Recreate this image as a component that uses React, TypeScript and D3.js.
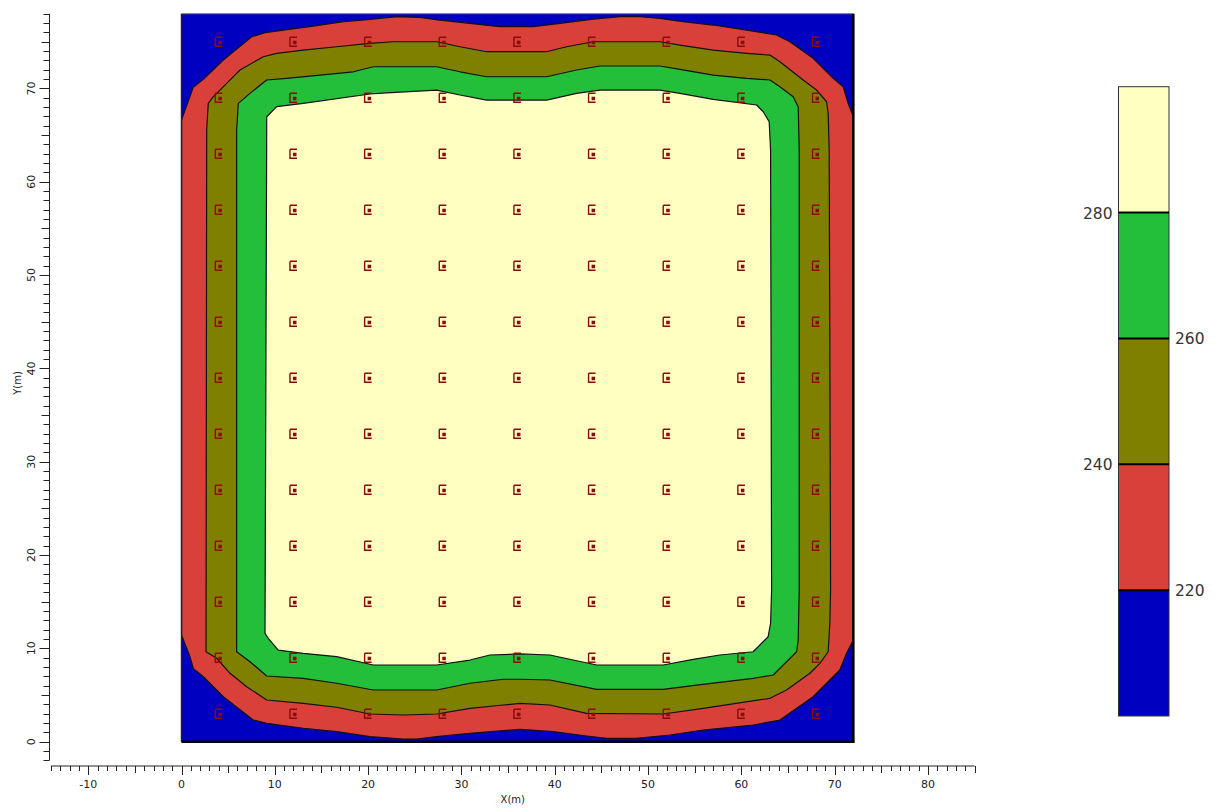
import React, { useEffect, useRef } from "react";
import * as d3 from "d3";

const width = 1215;
const height = 808;

// contour levels and band colours (below first level .. above last level)
const levels = [220, 240, 260, 280];
const bandColors = ["#0000c0", "#d9403a", "#808000", "#23bf3b", "#ffffc2"];

// well locations (m)
const wellX = [4, 12, 20, 28, 36, 44, 52, 60, 68];
const wellY = [3, 9, 15, 21, 27, 33, 39, 45, 51, 57, 63, 69, 75];

// contour lines, [x, y] in metres
const contour220: [number, number][] = [
  [0, 11.43], [0, 66.61], [1.26, 70.11], [2.34, 70.97], [4.48, 73.04], [7.52, 75.53],
  [8.95, 75.96], [10.91, 76.25], [14.12, 76.68], [17.34, 77.14], [20.2, 77.4],
  [23.06, 77.68], [25.55, 77.61], [27.7, 77.32], [30.91, 76.97], [34.12, 76.61],
  [37.69, 76.61], [40.55, 76.97], [44.12, 77.43], [46.98, 77.68], [49.13, 77.68],
  [51.27, 77.5], [53.76, 77.14], [56.98, 76.79], [60.56, 76.25], [63.77, 75.72],
  [65.2, 75.0], [67.69, 73.22], [69.84, 71.08], [70.91, 70.18], [71.44, 68.4],
  [72, 66.96], [72, 10.9], [71.27, 9.47], [70.55, 7.68], [67.69, 4.82], [64.13, 2.32],
  [61.26, 1.79], [55.91, 1.25], [52.34, 0.72], [48.77, 0.36], [45.56, 0.36],
  [43.41, 0.61], [39.84, 1.07], [36.27, 1.33], [34.48, 1.18], [30.91, 0.9],
  [27.34, 0.54], [25.2, 0.29], [23.77, 0.29], [20.2, 0.54], [16.63, 1.07],
  [13.05, 1.44], [9.13, 1.97], [7.69, 2.32], [4.48, 4.82], [2.34, 6.96],
  [1.26, 7.86], [0.91, 9.11],
];

const contour240: [number, number][] = [
  [2.7, 65.54], [2.87, 68.4], [3.41, 69.11], [4.84, 70.54], [6.27, 71.97], [8.76, 73.39],
  [10.2, 73.76], [13.05, 74.11], [16.63, 74.46], [20.2, 74.83], [22.69, 75.0],
  [27.34, 75.0], [29.84, 74.46], [32.7, 73.93], [39.13, 73.93], [41.27, 74.46],
  [44.12, 75.0], [51.27, 75.0], [53.41, 74.64], [56.98, 74.11], [60.56, 73.76],
  [63.06, 73.57], [64.13, 72.86], [66.62, 70.9], [68.06, 69.82], [69.13, 68.57],
  [69.3, 67.33], [69.41, 63.4], [69.56, 16.25], [69.48, 12.69], [69.3, 9.64],
  [68.41, 8.4], [67.34, 7.33], [64.84, 5.54], [63.06, 4.65], [55.91, 3.58],
  [51.62, 2.97], [43.41, 3.04], [39.48, 3.93], [36.27, 4.11], [34.48, 3.93],
  [30.91, 3.58], [27.34, 2.97], [23.77, 2.86], [20.2, 2.97], [16.63, 3.69],
  [13.05, 4.11], [9.13, 4.47], [6.99, 5.89], [5.2, 7.33], [3.77, 8.94], [2.63, 9.64],
];

const contour260: [number, number][] = [
  [5.91, 65.54], [6.09, 68.4], [7.34, 69.47], [9.13, 70.9], [11.27, 71.08], [14.84, 71.43],
  [18.41, 71.78], [20.55, 72.32], [27.34, 72.32], [29.84, 71.78], [32.7, 71.25],
  [39.13, 71.25], [42.34, 71.97], [44.84, 72.4], [51.27, 72.4], [53.41, 72.04],
  [56.98, 71.43], [60.56, 71.08], [63.06, 70.9], [64.13, 70.18], [65.55, 69.11],
  [66.09, 68.04], [66.2, 63.4], [66.2, 16.25], [66.09, 10.9], [65.92, 9.64],
  [63.41, 7.15], [61.26, 6.79], [55.2, 6.07], [51.62, 5.61], [44.49, 5.61],
  [39.48, 6.61], [36.27, 6.69], [34.48, 6.69], [30.91, 6.26], [27.34, 5.54],
  [20.55, 5.54], [16.63, 6.26], [13.05, 6.79], [9.13, 7.04], [7.34, 8.57], [5.91, 9.64],
];

const contour280: [number, number][] = [
  [9.13, 65.54], [9.13, 66.96], [10.2, 68.04], [13.05, 68.4], [20.2, 69.4], [21.99, 69.53],
  [27.34, 69.82], [29.84, 69.29], [32.7, 68.75], [39.13, 68.75], [42.34, 69.47],
  [44.84, 69.82], [51.27, 69.82], [53.41, 69.47], [56.98, 68.83], [61.63, 68.22],
  [62.34, 67.5], [62.98, 66.43], [63.13, 63.4], [63.24, 16.25], [63.13, 12.69],
  [62.87, 11.25], [61.26, 9.64], [57.7, 9.29], [54.84, 8.83], [51.62, 8.22],
  [44.49, 8.22], [39.48, 9.29], [36.27, 9.4], [33.05, 9.29], [30.91, 8.75],
  [27.34, 8.22], [20.55, 8.22], [16.63, 9.11], [13.05, 9.47], [10.37, 9.82],
  [9.3, 11.08], [8.95, 11.61],
];

const contours = [contour220, contour240, contour260, contour280];

const xDomain = [0, 72];
const yDomain = [0, 78];
const xAxisRange = [-14, 85];
const yAxisRange = [-2, 78];
const xTickLabels = [-10, 0, 10, 20, 30, 40, 50, 60, 70, 80];
const yTickLabels = [0, 10, 20, 30, 40, 50, 60, 70];
const barDomain = [200, 300];

const font = "'DejaVu Sans', Verdana, sans-serif";

export default function App() {
  const ref = useRef<SVGSVGElement>(null);

  useEffect(() => {
    const svg = d3.select(ref.current);
    svg.selectAll("*").remove();

    const x = d3.scaleLinear().domain([0, 80]).range([181.5, 928]);
    const y = d3.scaleLinear().domain([0, 70]).range([741.7, 88.4]);

    const clipId = "frameClip";
    svg
      .append("clipPath")
      .attr("id", clipId)
      .append("rect")
      .attr("x", x(xDomain[0]))
      .attr("y", y(yDomain[1]))
      .attr("width", x(xDomain[1]) - x(xDomain[0]))
      .attr("height", y(yDomain[0]) - y(yDomain[1]));

    const plot = svg.append("g").attr("clip-path", `url(#${clipId})`);

    plot
      .append("rect")
      .attr("x", x(xDomain[0]))
      .attr("y", y(yDomain[1]))
      .attr("width", x(xDomain[1]) - x(xDomain[0]))
      .attr("height", y(yDomain[0]) - y(yDomain[1]))
      .attr("fill", bandColors[0]);

    const line = d3
      .line<[number, number]>()
      .x((d) => x(d[0]))
      .y((d) => y(d[1]))
      .curve(d3.curveLinearClosed);

    contours.forEach((c, i) => {
      plot
        .append("path")
        .attr("d", line(c))
        .attr("fill", bandColors[i + 1])
        .attr("stroke", "#111")
        .attr("stroke-width", 1.2)
        .attr("stroke-linejoin", "round");
    });

    // well markers
    const glyph = "M-3.5,-4.5H3.5M-3.5,-4.5V4.5H3.5";
    const wells = wellY.flatMap((wy) => wellX.map((wx) => [wx, wy]));
    const mk = plot
      .selectAll("g.well")
      .data(wells)
      .enter()
      .append("g")
      .attr("class", "well")
      .attr("transform", (d) => `translate(${x(d[0])},${y(d[1])})`);
    mk.append("path")
      .attr("d", glyph)
      .attr("fill", "none")
      .attr("stroke", "#8b0a0a")
      .attr("stroke-width", 1.4);
    mk.append("rect")
      .attr("x", -0.5)
      .attr("y", -1)
      .attr("width", 3.5)
      .attr("height", 3.5)
      .attr("fill", "#8b0a0a");

    // frame
    const fx0 = x(xDomain[0]);
    const fx1 = x(xDomain[1]);
    const fy0 = y(yDomain[0]);
    const fy1 = y(yDomain[1]);
    svg.append("line").attr("x1", fx0).attr("x2", fx1).attr("y1", fy1).attr("y2", fy1)
      .attr("stroke", "#666").attr("stroke-width", 1.2);
    svg.append("line").attr("x1", fx0).attr("x2", fx0).attr("y1", fy1).attr("y2", fy0)
      .attr("stroke", "#222").attr("stroke-width", 1.5);
    svg.append("line").attr("x1", fx1).attr("x2", fx1).attr("y1", fy1).attr("y2", fy0 + 1)
      .attr("stroke", "#000").attr("stroke-width", 2.5);
    svg.append("line").attr("x1", fx0).attr("x2", fx1 + 1).attr("y1", fy0).attr("y2", fy0)
      .attr("stroke", "#000").attr("stroke-width", 2.5);

    // x axis
    const axY = 766;
    const xa = svg.append("g");
    xa.append("line")
      .attr("x1", x(xAxisRange[0]))
      .attr("x2", x(xAxisRange[1]))
      .attr("y1", axY)
      .attr("y2", axY)
      .attr("stroke", "#222");
    xa.selectAll("line.t")
      .data(d3.range(xAxisRange[0], xAxisRange[1] + 1))
      .enter()
      .append("line")
      .attr("class", "t")
      .attr("x1", (d) => Math.round(x(d)) + 0.5)
      .attr("x2", (d) => Math.round(x(d)) + 0.5)
      .attr("y1", axY)
      .attr("y2", (d) => axY + (d % 10 === 0 ? 9 : d % 5 === 0 ? 7 : 5))
      .attr("stroke", "#222");
    xa.selectAll("text")
      .data(xTickLabels)
      .enter()
      .append("text")
      .attr("x", (d) => x(d))
      .attr("y", 788)
      .attr("text-anchor", "middle")
      .attr("font-family", font)
      .attr("font-size", 11)
      .attr("fill", "#222")
      .text((d) => d);
    svg.append("text")
      .attr("x", x((xAxisRange[0] + xAxisRange[1]) / 2))
      .attr("y", 803)
      .attr("text-anchor", "middle")
      .attr("font-family", font)
      .attr("font-size", 10)
      .attr("fill", "#222")
      .text("X(m)");

    // y axis
    const axX = 49.5;
    const ya = svg.append("g");
    ya.append("line")
      .attr("x1", axX)
      .attr("x2", axX)
      .attr("y1", y(yAxisRange[0]))
      .attr("y2", y(yAxisRange[1]))
      .attr("stroke", "#222");
    ya.selectAll("line.t")
      .data(d3.range(yAxisRange[0], yAxisRange[1] + 1))
      .enter()
      .append("line")
      .attr("class", "t")
      .attr("y1", (d) => Math.round(y(d)) + 0.5)
      .attr("y2", (d) => Math.round(y(d)) + 0.5)
      .attr("x1", axX)
      .attr("x2", (d) => axX - (d % 10 === 0 ? 10 : d % 5 === 0 ? 8 : 6))
      .attr("stroke", "#222");
    ya.selectAll("text")
      .data(yTickLabels)
      .enter()
      .append("text")
      .attr("transform", (d) => `translate(35,${y(d)}) rotate(-90)`)
      .attr("text-anchor", "middle")
      .attr("font-family", font)
      .attr("font-size", 11)
      .attr("fill", "#222")
      .text((d) => d);
    svg.append("text")
      .attr("transform", `translate(21,383) rotate(-90)`)
      .attr("text-anchor", "middle")
      .attr("font-family", font)
      .attr("font-size", 10)
      .attr("fill", "#222")
      .text("Y(m)");

    // colour bar
    const c = d3.scaleLinear().domain(barDomain).range([716, 86.7]);
    const bx0 = 1118.5;
    const bw = 50.5;
    const edges = [barDomain[0], ...levels, barDomain[1]];
    const bar = svg.append("g");
    bar.selectAll("rect")
      .data(d3.range(edges.length - 1))
      .enter()
      .append("rect")
      .attr("x", bx0)
      .attr("width", bw)
      .attr("y", (i) => c(edges[i + 1]))
      .attr("height", (i) => c(edges[i]) - c(edges[i + 1]))
      .attr("fill", (i) => bandColors[i]);
    bar.append("rect")
      .attr("x", bx0)
      .attr("y", c(barDomain[1]))
      .attr("width", bw)
      .attr("height", c(barDomain[0]) - c(barDomain[1]))
      .attr("fill", "none")
      .attr("stroke", "#333")
      .attr("stroke-width", 1);
    bar.selectAll("line.lv")
      .data(levels)
      .enter()
      .append("line")
      .attr("class", "lv")
      .attr("x1", bx0)
      .attr("x2", bx0 + bw)
      .attr("y1", (d) => c(d))
      .attr("y2", (d) => c(d))
      .attr("stroke", "#000")
      .attr("stroke-width", 2);
    bar.selectAll("text")
      .data(levels)
      .enter()
      .append("text")
      .attr("x", (d, i) => (i % 2 === 0 ? bx0 + bw + 6 : bx0 - 6))
      .attr("y", (d) => c(d) + 6)
      .attr("text-anchor", (d, i) => (i % 2 === 0 ? "start" : "end"))
      .attr("font-family", font)
      .attr("font-size", 15.5)
      .attr("fill", "#333")
      .text((d) => d);
  }, []);

  return (
    <svg
      ref={ref}
      width={width}
      height={height}
      style={{ position: "fixed", left: 0, top: 0, background: "#fff" }}
    />
  );
}
